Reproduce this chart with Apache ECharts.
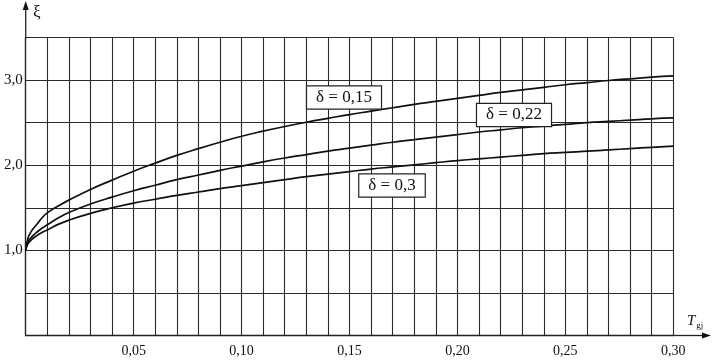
<!DOCTYPE html>
<html>
<head>
<meta charset="utf-8">
<script src="https://cdn.jsdelivr.net/npm/echarts@6/dist/echarts.min.js"></script>
<style>
html,body{margin:0;padding:0;background:#fff;}
#c{width:712px;height:360px;}
</style>
</head>
<body>
<div id="c"></div>
<script>
// x values (T_gj)
var xs = [0, 0.001, 0.0025, 0.005, 0.0075, 0.01, 0.015, 0.02, 0.03, 0.04, 0.05, 0.06, 0.07, 0.08, 0.09, 0.10, 0.11, 0.12, 0.13, 0.14, 0.15, 0.16, 0.17, 0.18, 0.19, 0.20, 0.21, 0.22, 0.23, 0.24, 0.25, 0.26, 0.27, 0.28, 0.29, 0.30];
// ξ for δ = 0,15
var xi015 = [1.0, 1.14, 1.22, 1.30, 1.38, 1.44, 1.52, 1.59, 1.715, 1.825, 1.93, 2.025, 2.115, 2.195, 2.27, 2.34, 2.40, 2.455, 2.505, 2.55, 2.595, 2.635, 2.675, 2.715, 2.75, 2.785, 2.82, 2.855, 2.885, 2.915, 2.945, 2.97, 2.995, 3.015, 3.035, 3.05];
// ξ for δ = 0,22
var xi022 = [1.0, 1.095, 1.15, 1.21, 1.26, 1.30, 1.38, 1.445, 1.545, 1.625, 1.70, 1.765, 1.83, 1.885, 1.94, 1.99, 2.04, 2.085, 2.125, 2.165, 2.20, 2.235, 2.27, 2.30, 2.33, 2.36, 2.39, 2.415, 2.44, 2.46, 2.48, 2.50, 2.515, 2.53, 2.545, 2.555];
// ξ for δ = 0,3
var xi030 = [1.0, 1.075, 1.12, 1.17, 1.21, 1.24, 1.305, 1.355, 1.435, 1.50, 1.555, 1.60, 1.645, 1.685, 1.725, 1.76, 1.795, 1.83, 1.865, 1.895, 1.925, 1.955, 1.98, 2.005, 2.03, 2.055, 2.075, 2.095, 2.115, 2.135, 2.15, 2.165, 2.18, 2.195, 2.21, 2.225];
var seriesNames = ['δ = 0,15', 'δ = 0,22', 'δ = 0,3'];
var yTickLabels = [1, 2, 3];
var xTickLabelStep = 0.05;

function pairs(ys){ return xs.map(function(x,i){ return [x, ys[i]]; }); }

var font = '"Liberation Serif","DejaVu Serif",serif';
var chart = echarts.init(document.getElementById('c'), null, {renderer:'canvas'});
var lineStyle = {color:'#111', width:1.7};
chart.setOption({
  animation:false,
  backgroundColor:'#fff',
  grid:{left:25.7, right:38.7, top:37.5, bottom:24.5},
  xAxis:{
    type:'value', min:0, max:0.30, interval:0.01,
    axisLine:{show:true, lineStyle:{color:'#222', width:1.3}},
    axisTick:{show:false},
    splitLine:{show:true, lineStyle:{color:'#2a2a2a', width:1.1}},
    axisLabel:{
      margin:9, color:'#111', fontFamily:font, fontSize:14, showMinLabel:true, showMaxLabel:true,
      formatter:function(v){
        var k = Math.round(v*100);
        if (k>0 && k % Math.round(xTickLabelStep*100) === 0) return v.toFixed(2).replace('.', ',');
        return '';
      }
    }
  },
  yAxis:{
    type:'value', min:0, max:3.5, interval:0.5,
    axisLine:{show:true, lineStyle:{color:'#222', width:1.3}},
    axisTick:{show:false},
    splitLine:{show:true, lineStyle:{color:'#2a2a2a', width:1.1}},
    axisLabel:{
      margin:3, color:'#111', fontFamily:font, fontSize:15,
      formatter:function(v){
        return yTickLabels.indexOf(Math.round(v*100)/100) >= 0 ? v.toFixed(1).replace('.', ',') : '';
      }
    }
  },
  series:[
    {type:'line', name:seriesNames[0], data:pairs(xi015), smooth:0.5, showSymbol:false, lineStyle:lineStyle, z:5},
    {type:'line', name:seriesNames[1], data:pairs(xi022), smooth:0.5, showSymbol:false, lineStyle:lineStyle, z:5},
    {type:'line', name:seriesNames[2], data:pairs(xi030), smooth:0.5, showSymbol:false, lineStyle:lineStyle, z:5}
  ]
});

var o = chart.convertToPixel({gridIndex:0}, [0,0]);
var tr = chart.convertToPixel({gridIndex:0}, [0.30,3.5]);
function box(text, cx, cy){
  return {type:'text', x:cx, y:cy, z:20, style:{
    text:text, font:'17px '+font, fill:'#111', align:'center', verticalAlign:'middle',
    backgroundColor:'#fff', borderColor:'#222', borderWidth:1.2, padding:[3,9,2,9]
  }};
}
chart.setOption({graphic:[
  {type:'line', shape:{x1:o[0], y1:tr[1], x2:o[0], y2:6}, style:{stroke:'#222', lineWidth:1.3}},
  {type:'polygon', shape:{points:[[o[0],1],[o[0]-3,10],[o[0]+3,10]]}, style:{fill:'#111'}},
  {type:'line', shape:{x1:tr[0], y1:o[1], x2:705, y2:o[1]}, style:{stroke:'#222', lineWidth:1.3}},
  {type:'polygon', shape:{points:[[711,o[1]],[702,o[1]-3],[702,o[1]+3]]}, style:{fill:'#111'}},
  {type:'text', x:33, y:4, style:{text:'ξ', font:'17px '+font, fill:'#111'}},
  {type:'text', x:687, y:313, style:{text:'{t|T}{s|gj}', rich:{t:{font:'italic 15px '+font, fill:'#111'}, s:{font:'9px '+font, fill:'#111', padding:[8,0,0,1]}}}},
  box(seriesNames[0], 344, 97.5),
  box(seriesNames[1], 514, 115),
  box(seriesNames[2], 392, 185.5)
]});
</script>
</body>
</html>
